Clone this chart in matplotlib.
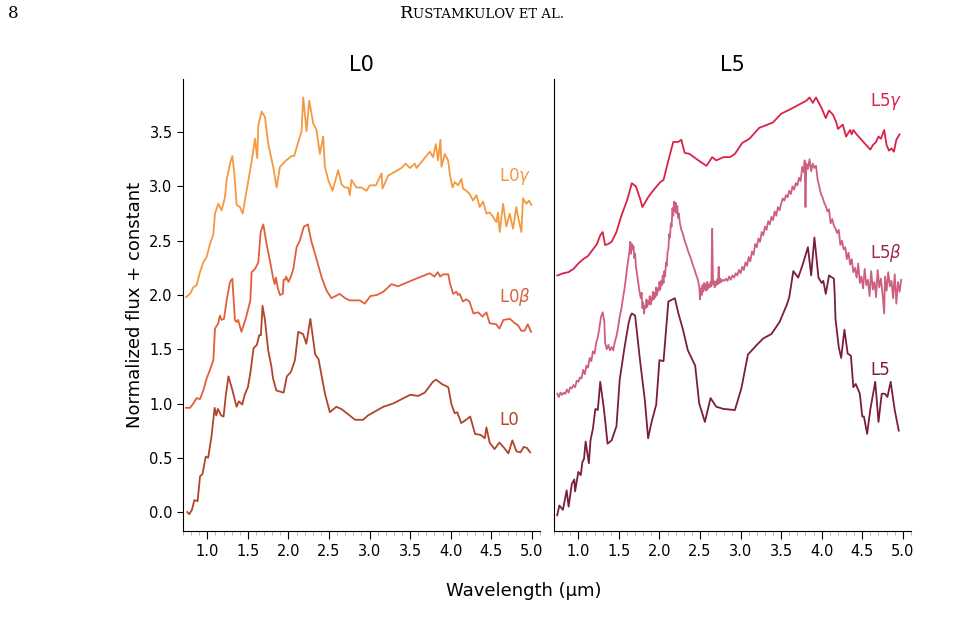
import matplotlib
matplotlib.use("Agg")
import matplotlib.pyplot as plt
from matplotlib.ticker import MultipleLocator
import numpy as np

# ---- L0 panel -------------------------------------------------------------
wl_l0g = [0.737, 0.786, 0.827, 0.868, 0.909, 0.950, 0.991, 1.033, 1.074, 1.094,
          1.135, 1.176, 1.217, 1.238, 1.279, 1.308, 1.332, 1.361, 1.402, 1.435,
          1.484, 1.546, 1.587, 1.615, 1.628, 1.669, 1.710, 1.751, 1.812, 1.854,
          1.895, 1.956, 2.038, 2.070, 2.161, 2.182, 2.223, 2.256, 2.305, 2.346,
          2.387, 2.428, 2.449, 2.490, 2.543, 2.613, 2.654, 2.695, 2.736, 2.757,
          2.777, 2.839, 2.900, 2.962, 3.003, 3.077, 3.147, 3.159, 3.229, 3.393,
          3.446, 3.496, 3.557, 3.578, 3.742, 3.783, 3.816, 3.844, 3.873, 3.886,
          3.927, 3.968, 3.988, 4.021, 4.050, 4.091, 4.132, 4.152, 4.193, 4.234,
          4.275, 4.317, 4.358, 4.399, 4.440, 4.481, 4.522, 4.563, 4.583, 4.604,
          4.645, 4.686, 4.727, 4.768, 4.809, 4.830, 4.871, 4.891, 4.932, 4.965,
          4.994]
fl_l0g = [1.98, 2.01, 2.07, 2.09, 2.21, 2.30, 2.35, 2.47, 2.56, 2.75,
          2.84, 2.78, 2.90, 3.06, 3.21, 3.28, 3.12, 2.83, 2.81, 2.75,
          2.96, 3.23, 3.44, 3.26, 3.56, 3.69, 3.64, 3.39, 3.18, 2.99,
          3.18, 3.23, 3.28, 3.28, 3.51, 3.82, 3.51, 3.79, 3.58, 3.52,
          3.30, 3.46, 3.18, 3.06, 2.96, 3.15, 3.02, 2.99, 2.99, 2.92,
          3.06, 2.99, 2.99, 2.96, 3.01, 3.01, 3.12, 2.98, 3.10, 3.17,
          3.21, 3.17, 3.21, 3.17, 3.32, 3.27, 3.39, 3.24, 3.43, 3.18,
          3.30, 3.24, 3.12, 2.99, 3.04, 3.01, 3.07, 2.98, 2.96, 2.93,
          2.87, 2.92, 2.81, 2.86, 2.75, 2.76, 2.72, 2.67, 2.76, 2.58,
          2.84, 2.63, 2.75, 2.61, 2.81, 2.72, 2.58, 2.89, 2.84, 2.87,
          2.83]

wl_l0b = [0.737, 0.786, 0.827, 0.868, 0.909, 0.950, 0.991, 1.033, 1.074, 1.094,
          1.135, 1.155, 1.176, 1.205, 1.238, 1.279, 1.308, 1.340, 1.360, 1.380,
          1.420, 1.480, 1.530, 1.546, 1.587, 1.628, 1.657, 1.690, 1.730, 1.770,
          1.810, 1.830, 1.845, 1.870, 1.895, 1.930, 1.940, 1.960, 1.970, 2.000,
          2.030, 2.060, 2.100, 2.140, 2.190, 2.240, 2.280, 2.350, 2.410, 2.470,
          2.530, 2.630, 2.700, 2.757, 2.880, 2.940, 3.010, 3.090, 3.170, 3.270,
          3.350, 3.540, 3.740, 3.800, 3.840, 3.870, 3.910, 3.970, 3.990, 4.010,
          4.030, 4.070, 4.090, 4.110, 4.150, 4.190, 4.230, 4.280, 4.340, 4.390,
          4.440, 4.480, 4.560, 4.600, 4.650, 4.730, 4.790, 4.830, 4.870, 4.910,
          4.950, 4.990]
fl_l0b = [0.96, 0.96, 1.00, 1.05, 1.04, 1.12, 1.23, 1.31, 1.40, 1.69,
          1.74, 1.81, 1.77, 1.78, 1.95, 2.12, 2.15, 1.77, 1.75, 1.77,
          1.66, 1.80, 1.95, 2.21, 2.24, 2.30, 2.58, 2.65, 2.47, 2.32,
          2.16, 2.10, 2.16, 2.06, 2.00, 2.01, 2.14, 2.14, 2.17, 2.12,
          2.17, 2.24, 2.44, 2.50, 2.63, 2.65, 2.50, 2.32, 2.16, 2.04,
          1.97, 2.01, 1.97, 1.95, 1.95, 1.92, 1.99, 2.00, 2.03, 2.10,
          2.08, 2.14, 2.20, 2.17, 2.21, 2.17, 2.19, 2.19, 2.11, 2.06,
          2.01, 2.03, 2.00, 2.01, 1.94, 1.96, 1.94, 1.83, 1.84, 1.80,
          1.84, 1.74, 1.73, 1.69, 1.77, 1.78, 1.74, 1.72, 1.67, 1.67,
          1.73, 1.66]

wl_l0 = [0.753, 0.778, 0.810, 0.840, 0.880, 0.910, 0.940, 0.980, 1.010, 1.050,
         1.090, 1.110, 1.130, 1.170, 1.200, 1.230, 1.260, 1.310, 1.360, 1.390,
         1.430, 1.460, 1.500, 1.530, 1.570, 1.610, 1.640, 1.660, 1.680, 1.710,
         1.750, 1.790, 1.810, 1.850, 1.940, 1.980, 2.030, 2.080, 2.120, 2.180,
         2.220, 2.270, 2.330, 2.370, 2.450, 2.510, 2.590, 2.650, 2.720, 2.820,
         2.920, 2.980, 3.170, 3.290, 3.500, 3.600, 3.680, 3.780, 3.820, 3.890,
         3.970, 4.010, 4.050, 4.080, 4.130, 4.190, 4.240, 4.300, 4.370, 4.420,
         4.440, 4.480, 4.540, 4.600, 4.660, 4.710, 4.760, 4.810, 4.860, 4.900,
         4.940, 4.980]
fl_l0 = [0.00, -0.02, 0.02, 0.11, 0.10, 0.33, 0.35, 0.51, 0.50, 0.69,
         0.96, 0.89, 0.95, 0.89, 0.88, 1.09, 1.25, 1.12, 0.97, 1.02,
         0.99, 1.08, 1.15, 1.28, 1.51, 1.54, 1.63, 1.63, 1.90, 1.77,
         1.49, 1.34, 1.23, 1.12, 1.10, 1.25, 1.29, 1.40, 1.66, 1.64,
         1.55, 1.78, 1.45, 1.41, 1.09, 0.92, 0.97, 0.95, 0.91, 0.85,
         0.85, 0.89, 0.97, 1.00, 1.08, 1.07, 1.10, 1.20, 1.22, 1.18,
         1.15, 0.99, 0.91, 0.92, 0.82, 0.85, 0.88, 0.72, 0.71, 0.68,
         0.78, 0.64, 0.58, 0.64, 0.59, 0.54, 0.66, 0.56, 0.55, 0.60,
         0.59, 0.55]

# ---- L5 panel -------------------------------------------------------------
wl_l5g = [0.741, 0.815, 0.877, 0.940, 1.000, 1.060, 1.120, 1.160, 1.230, 1.270,
          1.300, 1.330, 1.370, 1.410, 1.470, 1.530, 1.600, 1.660, 1.710, 1.760,
          1.790, 1.860, 1.920, 2.010, 2.050, 2.110, 2.170, 2.230, 2.270, 2.310,
          2.370, 2.480, 2.580, 2.650, 2.700, 2.790, 2.870, 2.930, 3.020, 3.110,
          3.230, 3.300, 3.400, 3.500, 3.610, 3.710, 3.810, 3.850, 3.890, 3.930,
          4.000, 4.050, 4.090, 4.140, 4.180, 4.200, 4.260, 4.300, 4.350, 4.370,
          4.390, 4.430, 4.490, 4.550, 4.600, 4.630, 4.670, 4.700, 4.730, 4.770,
          4.800, 4.830, 4.860, 4.890, 4.920, 4.960]
fl_l5g = [2.18, 2.20, 2.21, 2.24, 2.29, 2.33, 2.36, 2.40, 2.47, 2.55,
          2.58, 2.46, 2.47, 2.49, 2.58, 2.73, 2.87, 3.03, 3.00, 2.89,
          2.81, 2.90, 2.96, 3.04, 3.06, 3.24, 3.41, 3.41, 3.43, 3.31,
          3.30, 3.24, 3.19, 3.27, 3.24, 3.27, 3.27, 3.30, 3.40, 3.44,
          3.54, 3.56, 3.59, 3.67, 3.71, 3.75, 3.79, 3.82, 3.77, 3.82,
          3.72, 3.63, 3.70, 3.66, 3.59, 3.53, 3.57, 3.46, 3.52, 3.48,
          3.52, 3.48, 3.43, 3.38, 3.34, 3.38, 3.41, 3.46, 3.44, 3.52,
          3.38, 3.33, 3.35, 3.32, 3.43, 3.48]

# high-resolution L5beta spectrum (noisy)
wl_l5b = [0.740, 0.760, 0.780, 0.800, 0.820, 0.840, 0.860, 0.880, 0.900, 0.920,
          0.940, 0.960, 0.980, 1.000, 1.020, 1.040, 1.060, 1.080, 1.100, 1.120,
          1.140, 1.160, 1.180, 1.200, 1.220, 1.240, 1.260, 1.280, 1.300, 1.320,
          1.330, 1.350, 1.370, 1.390, 1.410, 1.430, 1.450, 1.470, 1.490, 1.510,
          1.530, 1.550, 1.570, 1.590, 1.610, 1.630, 1.640, 1.650, 1.660, 1.670,
          1.680, 1.690, 1.700, 1.710, 1.730, 1.750, 1.770, 1.780, 1.790, 1.800,
          1.810, 1.820, 1.830, 1.840, 1.850, 1.860, 1.870, 1.880, 1.890, 1.900,
          1.910, 1.920, 1.930, 1.940, 1.950, 1.960, 1.970, 1.980, 1.990, 2.000,
          2.010, 2.020, 2.030, 2.040, 2.050, 2.060, 2.070, 2.080, 2.090, 2.100,
          2.110, 2.120, 2.130, 2.140, 2.150, 2.160, 2.170, 2.180, 2.190, 2.200,
          2.210, 2.220, 2.230, 2.240, 2.250, 2.270, 2.290, 2.310, 2.330, 2.350,
          2.370, 2.390, 2.410, 2.430, 2.450, 2.470, 2.490, 2.500, 2.510, 2.520,
          2.530, 2.540, 2.550, 2.560, 2.570, 2.580, 2.590, 2.600, 2.610, 2.620,
          2.630, 2.640, 2.650, 2.660, 2.670, 2.680, 2.690, 2.700, 2.710, 2.720,
          2.730, 2.740, 2.750, 2.760, 2.780, 2.800, 2.820, 2.840, 2.860, 2.880,
          2.900, 2.920, 2.940, 2.960, 2.980, 3.000, 3.020, 3.040, 3.060, 3.080,
          3.100, 3.120, 3.140, 3.160, 3.180, 3.200, 3.220, 3.240, 3.260, 3.280,
          3.300, 3.320, 3.340, 3.360, 3.380, 3.400, 3.420, 3.440, 3.460, 3.480,
          3.500, 3.520, 3.540, 3.560, 3.580, 3.600, 3.620, 3.640, 3.660, 3.680,
          3.700, 3.720, 3.740, 3.760, 3.780, 3.790, 3.800, 3.810, 3.830, 3.850,
          3.870, 3.890, 3.910, 3.930, 3.950, 3.970, 3.990, 4.010, 4.030, 4.050,
          4.070, 4.090, 4.110, 4.130, 4.150, 4.170, 4.190, 4.210, 4.230, 4.250,
          4.270, 4.290, 4.310, 4.330, 4.350, 4.370, 4.390, 4.410, 4.430, 4.450,
          4.470, 4.490, 4.510, 4.530, 4.550, 4.570, 4.590, 4.610, 4.630, 4.650,
          4.670, 4.690, 4.710, 4.730, 4.750, 4.770, 4.780, 4.800, 4.820, 4.840,
          4.860, 4.880, 4.900, 4.920, 4.940, 4.960, 4.980]
fl_l5b = [1.09, 1.06, 1.10, 1.08, 1.10, 1.09, 1.13, 1.10, 1.15, 1.14,
          1.17, 1.15, 1.21, 1.20, 1.24, 1.23, 1.31, 1.27, 1.35, 1.33,
          1.42, 1.39, 1.48, 1.46, 1.56, 1.61, 1.70, 1.80, 1.84, 1.76,
          1.56, 1.50, 1.54, 1.49, 1.52, 1.49, 1.57, 1.62, 1.70, 1.80,
          1.87, 1.97, 2.06, 2.18, 2.30, 2.40, 2.49, 2.38, 2.47, 2.42,
          2.45, 2.34, 2.38, 2.26, 2.16, 2.05, 1.97, 2.02, 1.88, 1.93,
          1.83, 1.90, 1.88, 1.96, 1.89, 1.94, 1.92, 1.99, 1.91, 1.97,
          1.95, 2.03, 1.96, 2.02, 1.98, 2.07, 2.00, 2.06, 2.04, 2.12,
          2.05, 2.13, 2.09, 2.18, 2.11, 2.22, 2.17, 2.30, 2.27, 2.40,
          2.42, 2.56, 2.53, 2.66, 2.63, 2.80, 2.73, 2.86, 2.77, 2.85,
          2.75, 2.82, 2.71, 2.75, 2.67, 2.60, 2.56, 2.50, 2.46, 2.41,
          2.37, 2.33, 2.28, 2.24, 2.19, 2.15, 2.08, 1.96, 2.06, 2.00,
          2.09, 2.03, 2.11, 2.05, 2.10, 2.04, 2.12, 2.06, 2.09, 2.07,
          2.12, 2.08, 2.61, 2.10, 2.13, 2.07, 2.12, 2.09, 2.14, 2.10,
          2.26, 2.11, 2.15, 2.12, 2.14, 2.13, 2.15, 2.13, 2.17, 2.14,
          2.18, 2.16, 2.20, 2.18, 2.23, 2.20, 2.26, 2.23, 2.30, 2.27,
          2.35, 2.31, 2.40, 2.37, 2.47, 2.44, 2.52, 2.49, 2.58, 2.55,
          2.63, 2.60, 2.68, 2.65, 2.72, 2.69, 2.77, 2.73, 2.81, 2.78,
          2.84, 2.89, 2.87, 2.92, 2.90, 2.96, 2.93, 3.00, 2.97, 3.03,
          3.01, 3.08, 3.05, 3.18, 3.13, 3.24, 2.81, 3.21, 3.16, 3.25,
          3.14, 3.21, 3.17, 3.19, 3.06, 3.00, 2.93, 2.90, 2.85, 2.82,
          2.77, 2.79, 2.66, 2.70, 2.64, 2.61, 2.57, 2.60, 2.46, 2.50,
          2.42, 2.44, 2.33, 2.39, 2.28, 2.33, 2.21, 2.25, 2.16, 2.29,
          2.11, 2.17, 2.06, 2.24, 2.09, 2.14, 1.99, 2.22, 2.05, 2.12,
          1.98, 2.23, 2.07, 2.15, 2.01, 1.83, 2.17, 2.04, 2.21, 2.08,
          2.13, 1.97, 2.19, 1.92, 2.12, 2.03, 2.14]

wl_l5 = [0.740, 0.766, 0.810, 0.856, 0.880, 0.920, 0.950, 0.960, 1.000, 1.030,
         1.050, 1.070, 1.090, 1.130, 1.150, 1.180, 1.210, 1.240, 1.270, 1.310,
         1.330, 1.360, 1.410, 1.470, 1.510, 1.570, 1.620, 1.640, 1.660, 1.700,
         1.760, 1.820, 1.860, 1.900, 1.960, 2.000, 2.050, 2.110, 2.190, 2.230,
         2.290, 2.350, 2.440, 2.490, 2.560, 2.630, 2.700, 2.790, 2.930, 3.010,
         3.090, 3.200, 3.280, 3.380, 3.480, 3.570, 3.600, 3.650, 3.710, 3.770,
         3.830, 3.870, 3.910, 3.960, 4.000, 4.020, 4.050, 4.090, 4.150, 4.160,
         4.170, 4.210, 4.240, 4.280, 4.320, 4.360, 4.390, 4.420, 4.470, 4.500,
         4.520, 4.560, 4.600, 4.660, 4.700, 4.740, 4.780, 4.810, 4.850, 4.900,
         4.950]
fl_l5 = [-0.03, 0.06, 0.02, 0.20, 0.05, 0.26, 0.30, 0.19, 0.37, 0.34,
         0.46, 0.49, 0.65, 0.45, 0.66, 0.77, 0.95, 0.94, 1.20, 0.98,
         0.85, 0.63, 0.66, 0.79, 1.22, 1.52, 1.74, 1.80, 1.83, 1.81,
         1.40, 1.03, 0.68, 0.82, 0.99, 1.40, 1.39, 1.94, 1.97, 1.84,
         1.68, 1.49, 1.35, 1.00, 0.83, 1.05, 0.97, 0.95, 0.94, 1.14,
         1.45, 1.54, 1.60, 1.64, 1.75, 1.91, 1.98, 2.22, 2.16, 2.29,
         2.44, 2.18, 2.53, 2.16, 2.11, 2.13, 2.01, 2.18, 2.15, 2.01,
         1.78, 1.52, 1.42, 1.68, 1.46, 1.44, 1.15, 1.18, 1.09, 0.88,
         0.88, 0.72, 0.95, 1.20, 0.83, 1.09, 1.09, 1.06, 1.20, 0.94,
         0.75]

c_l0g, c_l0b, c_l0 = "#f4993f", "#e0603a", "#b0452b"
c_l5g, c_l5b, c_l5 = "#dc2148", "#cc607e", "#7a1d41"

fig = plt.figure(figsize=(9.75, 6.33), dpi=100)
ax1 = fig.add_axes([0.1877, 0.1611, 0.3661, 0.7141])
ax2 = fig.add_axes([0.5682, 0.1611, 0.3661, 0.7141], sharey=ax1)

ax1.plot(wl_l0g, fl_l0g, color=c_l0g, lw=1.3)
ax1.plot(wl_l0b, fl_l0b, color=c_l0b, lw=1.3)
ax1.plot(wl_l0, fl_l0, color=c_l0, lw=1.3)
ax2.plot(wl_l5g, fl_l5g, color=c_l5g, lw=1.3)
ax2.plot(wl_l5b, fl_l5b, color=c_l5b, lw=1.3)
ax2.plot(wl_l5, fl_l5, color=c_l5, lw=1.3)

lab = dict(fontsize=12, ha="left", va="center")
ax1.text(4.6, 3.09, r"L0$\gamma$", color=c_l0g, **lab)
ax1.text(4.6, 1.98, r"L0$\beta$", color=c_l0b, **lab)
ax1.text(4.6, 0.85, "L0", color=c_l0, **lab)
ax2.text(4.6, 3.78, r"L5$\gamma$", color=c_l5g, **lab)
ax2.text(4.6, 2.39, r"L5$\beta$", color="#9a2a55", **lab)
ax2.text(4.6, 1.31, "L5", color=c_l5, **lab)

for ax, title in [(ax1, "L0"), (ax2, "L5")]:
    ax.set_xlim(0.7, 5.1)
    ax.set_title(title, fontsize=15, pad=6)
    ax.spines["top"].set_visible(False)
    ax.spines["right"].set_visible(False)
    ax.xaxis.set_major_locator(MultipleLocator(0.5))
    ax.xaxis.set_minor_locator(MultipleLocator(0.1))
    ax.tick_params(axis="x", which="major", length=6, labelsize=10.5)
    ax.tick_params(axis="x", which="minor", length=3, color="#aaaaaa")

ax1.set_ylim(-0.175, 3.99)
ax1.yaxis.set_major_locator(MultipleLocator(0.5))
ax1.tick_params(axis="y", length=4, labelsize=10.5)
ax2.tick_params(axis="y", left=False, labelleft=False)

ax1.set_ylabel("Normalized flux + constant", fontsize=13)
fig.text(0.537, 0.066, "Wavelength (µm)", fontsize=13, ha="center", va="center")

# page header
fig.text(0.008, 0.979, "8", fontsize=12, family="DejaVu Serif", va="center")
fig.text(0.424, 0.979, "R", fontsize=12.5, family="DejaVu Serif", ha="right", va="center")
fig.text(0.424, 0.977, "USTAMKULOV ET AL.", fontsize=9.5, family="DejaVu Serif",
         ha="left", va="center")

fig.savefig("out.png", dpi=100)
